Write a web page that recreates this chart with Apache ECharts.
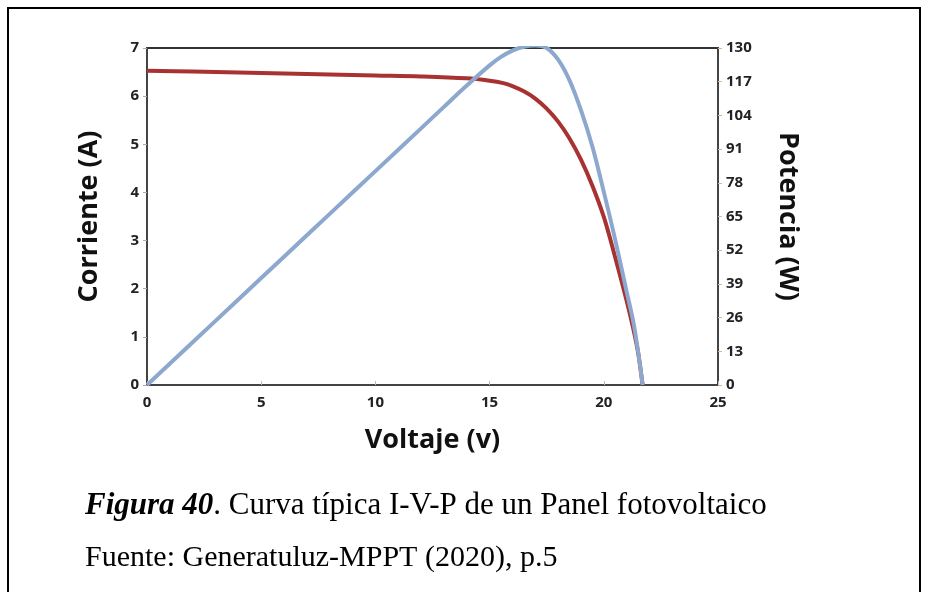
<!DOCTYPE html>
<html>
<head>
<meta charset="utf-8">
<script src="https://cdn.jsdelivr.net/npm/echarts@6/dist/echarts.min.js"></script>
<style>
  html, body { margin: 0; padding: 0; background: #fff; }
  #frame {
    position: absolute; left: 7px; top: 7px; width: 910px; height: 600px;
    border-left: 2px solid #000; border-top: 2px solid #000; border-right: 2px solid #000;
  }
  #chart { position: absolute; left: 0; top: 0; width: 928px; height: 592px; }
</style>
</head>
<body>
<div id="frame"></div>
<div id="chart"></div>
<script>
// curva I-V (corriente vs voltaje)
const voltajeI = [0, 2, 4, 6, 8, 10, 12, 14, 15, 15.6, 16, 16.5, 17, 17.5, 18, 18.5, 19, 19.5, 20, 20.5, 21, 21.3, 21.5, 21.7]
const corriente = [6.53, 6.51, 6.49, 6.47, 6.45, 6.43, 6.41, 6.37, 6.32, 6.27, 6.21, 6.1, 5.95, 5.74, 5.47, 5.12, 4.68, 4.14, 3.49, 2.65, 1.75, 1.15, 0.68, 0]
// curva P-V (potencia vs voltaje)
const voltajeP = [0, 2, 4, 6, 8, 10, 12, 13, 14, 15, 15.5, 16, 16.5, 17, 17.5, 18, 18.5, 19, 19.5, 20, 20.5, 21, 21.3, 21.5, 21.7]
const potencia = [0, 16.5, 33, 49.5, 66, 82.5, 99, 107.3, 115.5, 123.3, 126.6, 129, 130.5, 131, 130, 125.5, 117.5, 106, 92, 74.5, 56, 36, 24, 13, 0]

const xTicks = { min: 0, max: 25, interval: 5 }
const iTicks = { min: 0, max: 7, interval: 1 }
const pTicks = { min: 0, max: 130, interval: 13 }

const chart = echarts.init(document.getElementById('chart'))
const labelFont = { fontFamily: 'Open Sans', fontWeight: 'bold', fontSize: 15, color: '#222' }
const nameFont = { fontFamily: 'Open Sans', fontWeight: 'bold', fontSize: 27, color: '#111' }

chart.setOption({
  animation: false,
  title: [
    {
      left: 80,
      top: 485,
      text: '{b|Figura 40}{n|. Curva típica I-V-P de un Panel fotovoltaico}',
      textStyle: {
        fontWeight: 'normal',
        rich: {
          b: { fontFamily: 'Liberation Serif', fontSize: 31, fontWeight: 'bold', fontStyle: 'italic', color: '#000' },
          n: { fontFamily: 'Liberation Serif', fontSize: 31, fontWeight: 'normal', color: '#000' },
        },
      },
    },
    {
      left: 80,
      top: 538,
      text: 'Fuente: Generatuluz-MPPT (2020), p.5',
      textStyle: { fontFamily: 'Liberation Serif', fontSize: 30, fontWeight: 'normal', color: '#000' },
    },
  ],
  grid: {
    left: 147,
    right: 210,
    top: 48,
    bottom: 207,
    show: true,
    borderColor: '#333',
    borderWidth: 2,
  },
  xAxis: {
    type: 'value',
    ...xTicks,
    name: 'Voltaje (v)',
    nameLocation: 'middle',
    nameGap: 42,
    nameTextStyle: nameFont,
    axisLine: { lineStyle: { color: '#444', width: 2 } },
    axisTick: { inside: true, length: 4, lineStyle: { color: '#bbb' } },
    axisLabel: { ...labelFont, margin: 10 },
    splitLine: { show: false },
  },
  yAxis: [
    {
      type: 'value',
      ...iTicks,
      name: 'Corriente (A)',
      nameLocation: 'middle',
      nameGap: 44,
      nameTextStyle: nameFont,
      axisLine: { show: true, lineStyle: { color: '#444', width: 2 } },
      axisTick: { show: true, length: 4, lineStyle: { color: '#aaa' } },
      axisLabel: { ...labelFont, margin: 8 },
      splitLine: { show: false },
    },
    {
      type: 'value',
      ...pTicks,
      position: 'right',
      name: 'Potencia (W)',
      nameLocation: 'middle',
      nameGap: 56,
      nameRotate: -90,
      nameTextStyle: nameFont,
      axisLine: { show: true, lineStyle: { color: '#444', width: 2 } },
      axisTick: { show: true, length: 4, lineStyle: { color: '#f0b070' } },
      axisLabel: { ...labelFont, margin: 8 },
      splitLine: { show: false },
    },
  ],
  series: [
    {
      name: 'Corriente',
      type: 'line',
      yAxisIndex: 0,
      smooth: 0.35,
      symbol: 'none',
      lineStyle: { color: '#A83232', width: 4 },
      data: voltajeI.map((v, i) => [v, corriente[i]]),
    },
    {
      name: 'Potencia',
      type: 'line',
      yAxisIndex: 1,
      smooth: 0.35,
      symbol: 'none',
      lineStyle: { color: '#8DA8CE', width: 4 },
      data: voltajeP.map((v, i) => [v, potencia[i]]),
    },
  ],
})
</script>
</body>
</html>
